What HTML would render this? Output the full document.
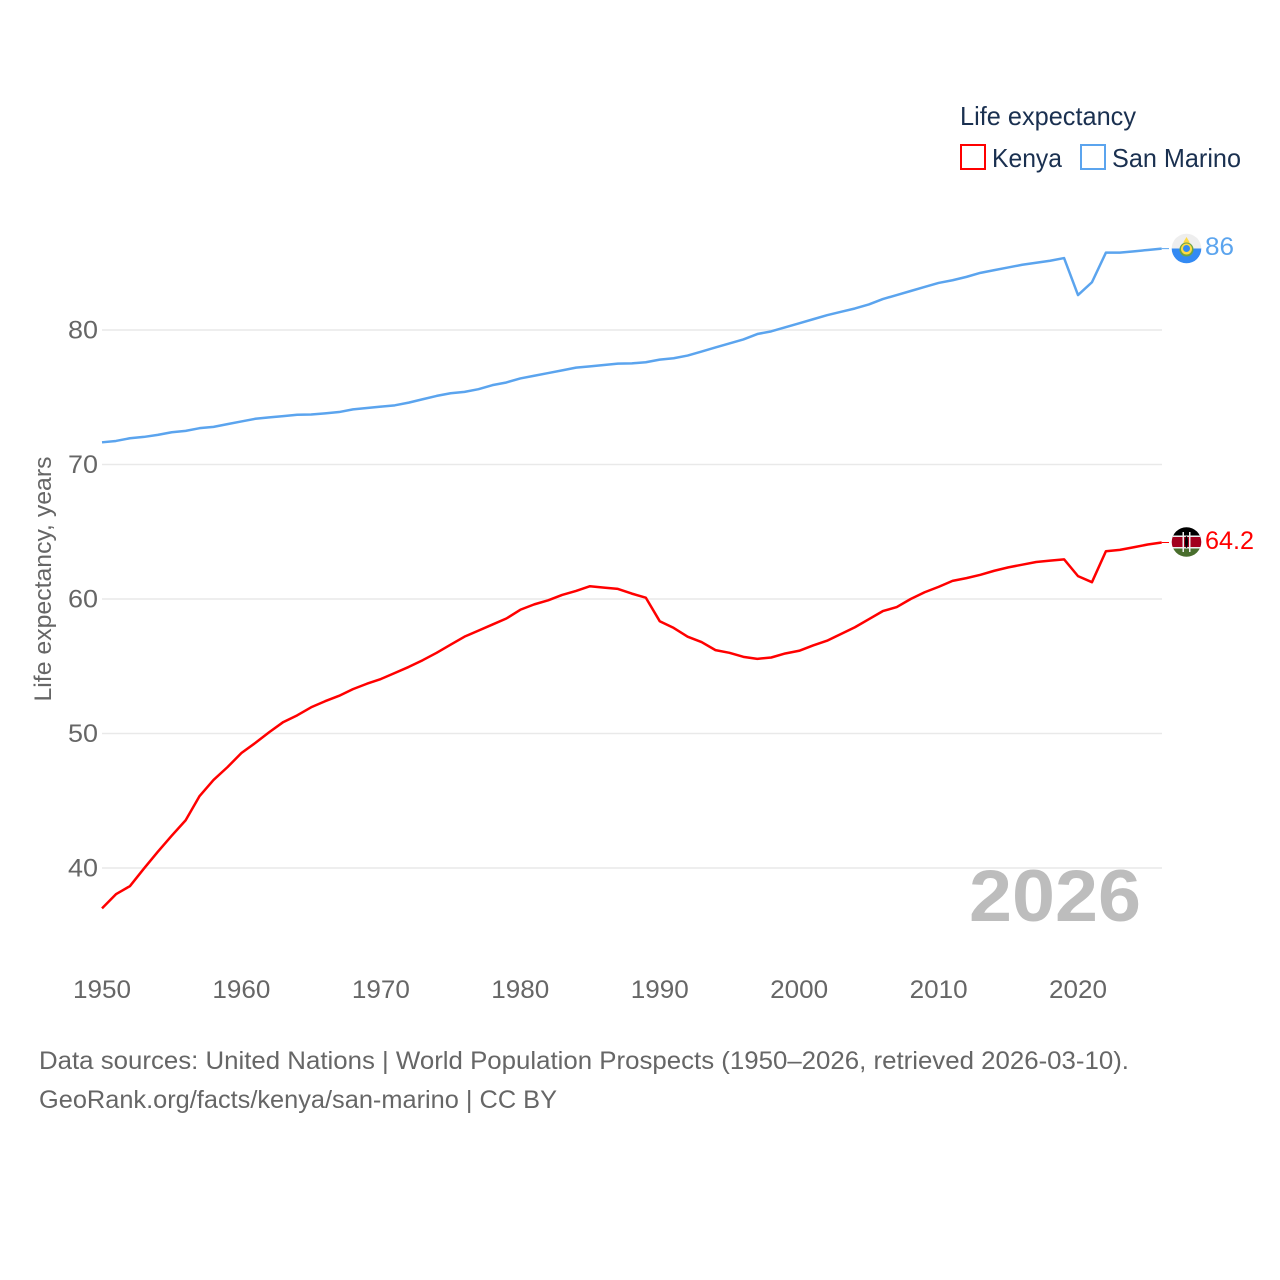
<!DOCTYPE html>
<html lang="en">
<head>
<meta charset="utf-8">
<title>Life expectancy: Kenya and San Marino</title>
<style>
html,body{margin:0;padding:0;background:#fff;}
svg{display:block;}
text{font-family:"Liberation Sans",sans-serif;}
</style>
</head>
<body>
<svg id="chart" xmlns="http://www.w3.org/2000/svg" width="1280" height="1280" viewBox="0 0 1280 1280">
  <rect x="0" y="0" width="1280" height="1280" fill="#ffffff"/>
  <g id="grid"></g>
  <g id="yticks"></g>
  <g id="xticks"></g>
  <text transform="translate(51,579) rotate(-90)" text-anchor="middle" font-size="24" fill="#666666" textLength="245" lengthAdjust="spacingAndGlyphs">Life expectancy, years</text>
  <text x="1055" y="921" text-anchor="middle" font-size="73" font-weight="bold" fill="#bdbdbd" textLength="172" lengthAdjust="spacingAndGlyphs">2026</text>
  <g id="series"></g>

  <g>
    <clipPath id="clipSM"><circle cx="1186.500" cy="248.500" r="14.800"/></clipPath>
    <g clip-path="url(#clipSM)">
      <rect x="1171" y="233" width="31" height="15.500" fill="#eeeeee"/>
      <rect x="1171" y="248.500" width="31" height="15.500" fill="#338af3"/>
      <path d="M1186.500 237l3 5v3h-6v-3z" fill="#ffda44"/>
      <circle cx="1186.500" cy="249.500" r="7" fill="#6da544"/>
      <circle cx="1186.500" cy="249" r="5.500" fill="#ffda44"/>
      <circle cx="1186.500" cy="248.500" r="3.500" fill="#338af3"/>
    </g>
  </g>
  <g>
    <clipPath id="clipKE"><circle cx="1186.500" cy="542" r="14.800"/></clipPath>
    <g clip-path="url(#clipKE)">
      <rect x="1171" y="527" width="31" height="10" fill="#000000"/>
      <rect x="1171" y="537" width="31" height="10" fill="#a2001d"/>
      <rect x="1171" y="535.500" width="31" height="1.500" fill="#eeeeee"/>
      <rect x="1171" y="547" width="31" height="1.500" fill="#eeeeee"/>
      <rect x="1171" y="548.500" width="31" height="8.500" fill="#496e2d"/>
      <rect x="1182.500" y="532" width="1.500" height="20" fill="#eeeeee"/>
      <rect x="1189" y="532" width="1.500" height="20" fill="#eeeeee"/>
      <ellipse cx="1186.500" cy="542" rx="1.500" ry="6" fill="#000000"/>
    </g>
  </g>
  <text id="labelSM" x="1205" y="255" font-size="25" fill="#5ba4ee" textLength="29" lengthAdjust="spacingAndGlyphs">86</text>
  <text id="labelKE" x="1205" y="549" font-size="25" fill="#ff0000" textLength="49" lengthAdjust="spacingAndGlyphs">64.2</text>

  <g>
    <text x="960" y="125" font-size="26" fill="#1a3050" textLength="176" lengthAdjust="spacingAndGlyphs">Life expectancy</text>
    <g>
      <rect x="961" y="145" width="24" height="24" fill="#ffffff" stroke="#ff0000" stroke-width="2"/>
      <text x="992" y="167" font-size="26" fill="#1a3050" textLength="70" lengthAdjust="spacingAndGlyphs">Kenya</text>
    </g>
    <g>
      <rect x="1081" y="145" width="24" height="24" fill="#ffffff" stroke="#5ba4ee" stroke-width="2"/>
      <text x="1112" y="167" font-size="26" fill="#1a3050" textLength="129" lengthAdjust="spacingAndGlyphs">San Marino</text>
    </g>
  </g>

  <text x="39" y="1069" font-size="25" fill="#666666" textLength="1090" lengthAdjust="spacingAndGlyphs">Data sources: United Nations | World Population Prospects (1950–2026, retrieved 2026-03-10).</text>
  <text x="39" y="1108" font-size="25" fill="#666666" textLength="518" lengthAdjust="spacingAndGlyphs">GeoRank.org/facts/kenya/san-marino | CC BY</text>
</svg>
<script>
const startYear = 1950;
const xTickYears = [1950, 1960, 1970, 1980, 1990, 2000, 2010, 2020];
const yTickValues = [40, 50, 60, 70, 80];
const kenyaValues = [
  37.0, 38.05, 38.65, 39.95, 41.2, 42.4, 43.55, 45.35, 46.55, 47.5,
  48.55, 49.3, 50.1, 50.85, 51.35, 51.95, 52.4, 52.8, 53.3, 53.7,
  54.05, 54.5, 54.95, 55.45, 56.0, 56.6, 57.2, 57.65, 58.1, 58.55,
  59.2, 59.6, 59.9, 60.3, 60.6, 60.95, 60.85, 60.75, 60.4, 60.1,
  58.35, 57.85, 57.2, 56.8, 56.2, 56.0, 55.7, 55.55, 55.65, 55.95,
  56.15, 56.55, 56.9, 57.4, 57.9, 58.5, 59.1, 59.4, 60.0, 60.5,
  60.9, 61.35, 61.55, 61.8, 62.1, 62.35, 62.55, 62.75, 62.85, 62.95,
  61.7, 61.25, 63.55, 63.65, 63.85, 64.05, 64.2
];
const sanMarinoValues = [
  71.65, 71.75, 71.95, 72.05, 72.2, 72.4, 72.5, 72.7, 72.8, 73.0,
  73.2, 73.4, 73.5, 73.6, 73.7, 73.72, 73.8, 73.9, 74.1, 74.2,
  74.3, 74.4, 74.6, 74.85, 75.1, 75.3, 75.4, 75.6, 75.9, 76.1,
  76.4, 76.6, 76.8, 77.0, 77.2, 77.3, 77.4, 77.5, 77.52, 77.6,
  77.8, 77.9, 78.1, 78.4, 78.7, 79.0, 79.3, 79.7, 79.9, 80.2,
  80.5, 80.8, 81.1, 81.35, 81.6, 81.9, 82.3, 82.6, 82.9, 83.2,
  83.5, 83.7, 83.95, 84.25, 84.45, 84.65, 84.85, 85.0, 85.15, 85.35,
  82.6, 83.55, 85.75, 85.75, 85.85, 85.95, 86.05
];

const NS = 'http://www.w3.org/2000/svg';
function xScale(year) { return 102 + (year - 1950) * 13.943; }
function yScale(value) { return 330 - (value - 80) * 13.45; }

const grid = document.getElementById('grid');
const yticks = document.getElementById('yticks');
const xticks = document.getElementById('xticks');
const series = document.getElementById('series');

yTickValues.forEach(function (v) {
  const line = document.createElementNS(NS, 'line');
  
  
  line.setAttribute('x1', 102);
  line.setAttribute('x2', 1162);
  line.setAttribute('y1', yScale(v));
  line.setAttribute('y2', yScale(v));
  line.setAttribute('stroke', '#e9e9e9');
  line.setAttribute('stroke-width', '1.5');
  grid.appendChild(line);

  const label = document.createElementNS(NS, 'text');
  
  
  label.setAttribute('x', 98);
  label.setAttribute('y', yScale(v) + 8.5);
  label.setAttribute('text-anchor', 'end');
  label.setAttribute('font-size', '25');
  label.setAttribute('fill', '#666666');
  label.setAttribute('textLength', '30');
  label.setAttribute('lengthAdjust', 'spacingAndGlyphs');
  label.textContent = String(v);
  yticks.appendChild(label);
});

xTickYears.forEach(function (yr) {
  const label = document.createElementNS(NS, 'text');
  
  
  label.setAttribute('x', xScale(yr));
  label.setAttribute('y', 998);
  label.setAttribute('text-anchor', 'middle');
  label.setAttribute('font-size', '25');
  label.setAttribute('fill', '#666666');
  label.setAttribute('textLength', '58');
  label.setAttribute('lengthAdjust', 'spacingAndGlyphs');
  label.textContent = String(yr);
  xticks.appendChild(label);
});

function linePoints(values) {
  return values.map(function (v, i) {
    return xScale(startYear + i).toFixed(2) + ',' + yScale(v).toFixed(2);
  }).join(' ');
}

const kenyaLine = document.createElementNS(NS, 'polyline');


kenyaLine.setAttribute('points', linePoints(kenyaValues));
kenyaLine.setAttribute('fill', 'none');
kenyaLine.setAttribute('stroke', '#ff0000');
kenyaLine.setAttribute('stroke-width', '2.5');
kenyaLine.setAttribute('stroke-linejoin', 'round');
series.appendChild(kenyaLine);

const sanMarinoLine = document.createElementNS(NS, 'polyline');


sanMarinoLine.setAttribute('points', linePoints(sanMarinoValues));
sanMarinoLine.setAttribute('fill', 'none');
sanMarinoLine.setAttribute('stroke', '#5ba4ee');
sanMarinoLine.setAttribute('stroke-width', '2.5');
sanMarinoLine.setAttribute('stroke-linejoin', 'round');
series.appendChild(sanMarinoLine);

const lastYear = startYear + kenyaValues.length - 1;

const kenyaLeader = document.createElementNS(NS, 'line');


kenyaLeader.setAttribute('x1', xScale(lastYear));
kenyaLeader.setAttribute('x2', 1169);
kenyaLeader.setAttribute('y1', yScale(kenyaValues[kenyaValues.length - 1]));
kenyaLeader.setAttribute('y2', yScale(kenyaValues[kenyaValues.length - 1]));
kenyaLeader.setAttribute('stroke', '#ff0000');
kenyaLeader.setAttribute('stroke-width', '1');
series.appendChild(kenyaLeader);

const sanMarinoLeader = document.createElementNS(NS, 'line');


sanMarinoLeader.setAttribute('x1', xScale(lastYear));
sanMarinoLeader.setAttribute('x2', 1169);
sanMarinoLeader.setAttribute('y1', yScale(sanMarinoValues[sanMarinoValues.length - 1]));
sanMarinoLeader.setAttribute('y2', yScale(sanMarinoValues[sanMarinoValues.length - 1]));
sanMarinoLeader.setAttribute('stroke', '#5ba4ee');
sanMarinoLeader.setAttribute('stroke-width', '1');
series.appendChild(sanMarinoLeader);
</script>
</body>
</html>
